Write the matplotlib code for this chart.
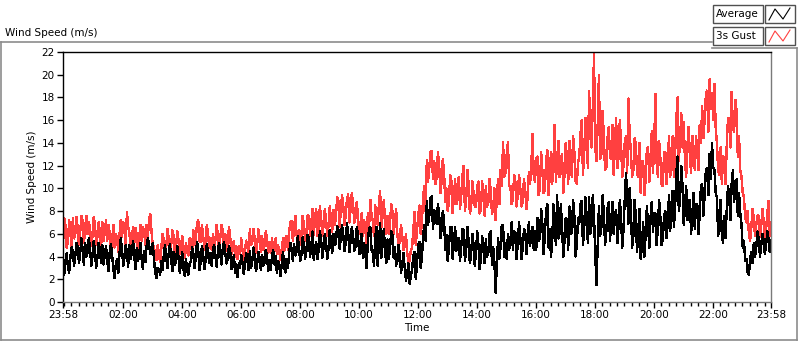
import numpy as np
import pandas as pd
import matplotlib
matplotlib.use("Agg")
import matplotlib.pyplot as plt
import matplotlib.dates as mdates
from matplotlib.patches import Rectangle
from matplotlib.lines import Line2D

plt.rcParams['font.family'] = ['DejaVu Sans']

# samples: on-the-5-minute values from 23:58 to 23:58,
# plus the samples 2.5 minutes after each of them (the "_mid" lists)
average = [
    3.3, 3.6, 3.1, 3.9, 4.4, 4.1, 4.8, 4.3, 4.6, 5.2, 4.4, 4.7,
    4.1, 4.5, 3.9, 4.6, 5.0, 4.2, 3.6, 4.4, 4.0, 2.1, 3.8, 4.3,
    4.6, 3.9, 4.4, 5.0, 4.3, 4.0, 4.7, 4.2, 3.8, 4.5, 4.9, 5.1,
    4.6, 3.8, 2.1, 2.9, 3.6, 4.1, 3.9, 4.3, 3.7, 4.4, 3.6, 3.9,
    3.4, 2.9, 3.8, 2.4, 3.6, 4.3, 3.9, 4.6, 3.5, 4.2, 3.7, 4.4,
    4.3, 4.6, 4.0, 4.4, 4.2, 4.7, 4.3, 3.8, 4.5, 3.2, 2.6, 2.2,
    3.0, 3.5, 3.2, 3.7, 4.5, 3.6, 3.9, 3.4, 3.8, 4.1, 3.5, 3.9,
    3.7, 4.0, 3.3, 2.6, 3.1, 3.4, 3.0, 3.8, 4.3, 4.7, 5.1, 4.4,
    4.8, 4.2, 5.0, 4.5, 5.6, 4.9, 3.7, 5.3, 4.6, 5.5, 4.8, 5.2,
    4.7, 5.4, 6.0, 5.1, 6.4, 5.6, 5.9, 5.2, 6.1, 5.4, 5.8, 4.9,
    5.8, 4.5, 3.9, 4.2, 5.3, 6.6, 4.4, 5.7, 3.2, 6.9, 5.0, 4.6,
    5.5, 4.6, 5.9, 4.8, 3.6, 4.2, 3.3, 3.0, 2.4, 1.6, 2.8, 4.4,
    3.4, 5.3, 4.0, 6.8, 8.9, 7.6, 9.3, 8.1, 6.9, 7.8, 6.4, 7.2,
    5.9, 4.8, 6.6, 5.2, 4.5, 5.6, 4.9, 6.3, 4.6, 5.4, 4.2, 5.1,
    4.4, 5.0, 3.8, 4.7, 5.5, 4.3, 6.2, 4.8, 0.8, 5.6, 4.9, 6.8,
    5.2, 6.0, 5.4, 4.6, 6.1, 5.1, 5.8, 4.7, 6.3, 5.5, 4.9, 6.6,
    6.2, 7.4, 5.6, 6.8, 5.9, 8.6, 6.4, 5.3, 7.1, 9.4, 6.0, 6.7,
    5.4, 7.2, 8.4, 6.1, 7.6, 5.0, 6.9, 8.9, 6.4, 7.4, 9.2, 6.8,
    7.6, 1.5, 8.4, 6.6, 7.8, 6.2, 8.8, 7.1, 6.0, 8.1, 6.7, 7.5,
    6.4, 11.3, 6.9, 8.2, 5.8, 7.6, 6.2, 3.8, 7.0, 5.9, 6.8, 7.4,
    6.2, 7.8, 6.6, 7.4, 5.5, 8.0, 7.0, 6.3, 9.8, 8.4, 12.8, 9.0,
    10.2, 8.4, 7.2, 9.0, 7.6, 6.4, 8.6, 7.8, 10.4, 9.4, 11.8, 13.0,
    14.0, 11.6, 9.2, 7.0, 5.8, 7.6, 8.2, 9.4, 10.4, 8.8, 10.8, 9.6,
    6.8, 5.4, 3.8, 2.4, 4.4, 5.2, 4.8, 5.6, 4.9, 5.4, 5.0, 5.6,
    5.4,
]
average_mid = [
    2.4, 4.3, 2.6, 4.8, 3.2, 5.2, 3.4, 5.6, 3.3, 4.0, 5.6, 3.2,
    5.4, 3.0, 5.2, 3.4, 3.3, 4.9, 2.7, 5.1, 2.9, 3.4, 2.6, 5.6,
    3.2, 5.0, 3.1, 3.8, 5.4, 2.9, 3.6, 5.2, 2.9, 3.5, 5.6, 4.2,
    5.2, 2.6, 3.0, 2.4, 2.8, 5.0, 3.0, 5.1, 2.7, 3.3, 4.9, 2.6,
    4.4, 2.3, 2.7, 3.4, 4.8, 3.0, 5.3, 2.8, 4.9, 2.9, 5.1, 3.4,
    3.2, 5.0, 3.1, 5.2, 3.3, 5.3, 3.4, 4.9, 2.9, 4.1, 3.3, 3.4,
    4.1, 2.5, 4.3, 2.8, 3.0, 4.8, 2.7, 4.4, 2.8, 3.2, 4.6, 2.7,
    2.8, 4.6, 4.0, 3.6, 2.3, 4.4, 2.6, 3.0, 5.2, 3.6, 4.1, 5.8,
    3.6, 5.7, 3.8, 5.9, 4.0, 6.2, 4.8, 3.8, 6.2, 3.9, 6.0, 3.8,
    6.3, 4.3, 5.0, 6.7, 4.7, 6.8, 4.5, 6.9, 4.4, 6.6, 4.5, 6.6,
    4.2, 6.0, 5.2, 3.0, 6.4, 4.6, 3.2, 6.6, 5.2, 3.9, 6.4, 3.4,
    3.8, 6.2, 3.9, 3.2, 5.0, 2.6, 4.3, 1.9, 3.4, 2.3, 4.1, 2.0,
    5.0, 3.0, 5.8, 5.4, 6.8, 9.2, 6.4, 7.0, 8.6, 5.6, 8.0, 4.6,
    3.6, 6.6, 3.8, 6.6, 5.6, 3.6, 6.4, 3.6, 6.6, 3.4, 6.0, 3.2,
    6.2, 2.9, 5.8, 3.4, 4.0, 6.0, 3.3, 3.4, 3.6, 3.8, 6.8, 4.0,
    3.8, 4.6, 7.0, 6.2, 3.8, 7.0, 3.8, 6.4, 4.2, 7.0, 6.2, 4.6,
    4.6, 5.4, 8.2, 4.2, 8.0, 4.8, 4.0, 8.6, 5.0, 5.6, 8.6, 4.0,
    7.4, 4.6, 6.0, 9.0, 4.0, 7.4, 8.6, 5.0, 9.2, 5.2, 6.0, 9.4,
    4.2, 5.0, 5.8, 9.4, 5.0, 8.2, 5.4, 8.8, 7.6, 5.2, 9.0, 4.8,
    9.0, 9.4, 10.0, 4.8, 9.0, 4.4, 8.2, 5.0, 4.0, 8.4, 4.8, 8.8,
    7.8, 5.0, 9.0, 5.0, 7.6, 5.6, 9.4, 8.6, 6.6, 11.4, 8.0, 12.0,
    6.8, 10.2, 9.0, 6.0, 9.6, 8.6, 6.0, 10.2, 7.6, 11.6, 9.4, 10.8,
    11.8, 9.6, 5.8, 9.0, 5.2, 5.6, 10.2, 7.2, 11.6, 10.2, 7.6, 7.8,
    4.8, 3.6, 2.6, 3.8, 3.4, 4.0, 6.2, 4.0, 6.0, 4.2, 6.2, 4.4,
]
gust = [
    5.0, 6.7, 5.3, 6.1, 7.4, 6.0, 6.5, 6.2, 7.1, 6.4, 6.0, 6.6,
    5.8, 6.8, 5.7, 6.2, 7.0, 6.1, 5.4, 6.0, 5.5, 4.8, 5.6, 6.0,
    5.7, 6.4, 7.9, 6.1, 5.5, 5.2, 5.9, 5.6, 5.4, 6.3, 6.8, 7.3,
    6.2, 4.9, 3.7, 4.3, 4.8, 5.4, 4.9, 5.6, 5.0, 5.8, 4.9, 5.4,
    4.8, 4.6, 5.2, 4.1, 5.5, 6.3, 5.6, 7.2, 5.3, 5.9, 5.4, 6.0,
    5.6, 6.0, 5.5, 5.9, 5.7, 6.2, 6.0, 5.2, 5.8, 4.5, 4.0, 3.8,
    4.2, 4.6, 4.4, 5.0, 6.4, 5.3, 5.5, 5.1, 5.6, 5.8, 5.0, 5.5,
    5.3, 5.6, 4.6, 4.2, 4.4, 4.7, 4.5, 5.8, 6.2, 7.1, 6.5, 6.0,
    6.3, 6.0, 6.8, 6.1, 7.6, 6.9, 5.9, 8.2, 6.6, 7.4, 6.8, 7.2,
    6.7, 7.3, 8.1, 7.4, 8.9, 8.0, 8.5, 7.6, 9.5, 8.2, 8.6, 7.4,
    7.4, 6.2, 5.8, 6.4, 7.8, 9.0, 7.2, 8.5, 6.8, 9.8, 7.6, 7.0,
    7.6, 6.8, 8.0, 7.0, 6.0, 5.4, 5.8, 4.9, 4.4, 3.6, 4.8, 7.9,
    6.3, 8.5, 7.0, 10.2, 12.5, 11.8, 13.3, 12.4, 11.0, 12.1, 10.6, 11.4,
    10.0, 8.8, 10.6, 9.2, 8.6, 11.0, 9.4, 12.0, 9.0, 10.4, 8.2, 9.6,
    8.4, 10.6, 8.1, 9.3, 10.2, 8.7, 9.8, 8.0, 7.2, 10.8, 11.6, 14.1,
    11.4, 14.1, 10.2, 9.0, 10.6, 9.4, 10.1, 8.8, 9.9, 9.2, 10.4, 14.8,
    10.6, 12.8, 10.0, 11.6, 9.8, 13.4, 11.2, 10.4, 15.6, 12.4, 11.0, 13.0,
    11.2, 12.6, 14.2, 11.0, 13.2, 10.4, 12.8, 16.0, 13.0, 14.8, 18.6, 13.6,
    21.8, 12.4, 20.0, 13.0, 14.6, 11.8, 15.4, 12.6, 11.2, 16.2, 12.8, 14.0,
    12.0, 14.6, 17.9, 13.2, 11.6, 14.0, 11.0, 9.6, 12.4, 10.8, 13.6, 12.2,
    11.4, 18.3, 11.0, 12.6, 10.2, 13.2, 12.0, 11.0, 14.6, 13.0, 18.0, 14.2,
    13.6, 12.4, 13.8, 12.8, 14.6, 11.6, 13.2, 15.6, 17.2, 16.0, 18.6, 19.6,
    18.4, 19.2, 14.0, 11.2, 10.4, 12.6, 13.8, 16.2, 18.5, 15.0, 16.8, 14.6,
    11.0, 9.2, 7.0, 6.0, 6.6, 7.4, 6.8, 7.6, 6.6, 7.2, 6.4, 8.9,
    7.0,
]
gust_mid = [
    7.4, 4.8, 7.2, 4.9, 5.6, 7.5, 5.0, 7.6, 5.2, 7.6, 7.0, 4.9,
    7.5, 5.0, 7.0, 4.9, 5.4, 7.2, 6.8, 4.6, 6.8, 6.0, 4.4, 7.2,
    7.0, 5.0, 6.6, 4.8, 6.6, 6.5, 4.6, 6.8, 6.6, 5.0, 5.6, 7.7,
    5.0, 4.0, 5.0, 3.5, 6.0, 4.0, 6.4, 4.2, 6.3, 4.3, 6.2, 4.2,
    5.8, 3.9, 4.4, 5.6, 4.3, 5.0, 6.8, 5.4, 6.8, 4.6, 6.8, 4.8,
    4.6, 4.7, 6.8, 4.6, 6.8, 4.9, 4.5, 6.6, 4.2, 5.4, 4.9, 4.9,
    5.6, 3.7, 5.4, 4.0, 5.0, 6.4, 4.3, 6.4, 4.4, 4.6, 6.2, 4.3,
    4.3, 4.6, 5.6, 5.0, 3.7, 5.6, 5.6, 4.6, 7.0, 5.4, 7.6, 5.0,
    5.0, 7.6, 5.4, 7.6, 5.8, 8.2, 7.4, 5.8, 8.4, 5.8, 8.2, 5.8,
    8.4, 6.2, 6.8, 9.2, 6.6, 9.4, 6.8, 9.0, 7.0, 9.6, 7.0, 8.8,
    6.0, 7.8, 7.2, 5.0, 6.6, 7.6, 5.8, 7.2, 8.6, 6.6, 9.0, 6.0,
    6.0, 8.6, 6.0, 8.2, 4.8, 6.8, 4.6, 6.0, 3.5, 4.6, 6.4, 5.0,
    7.6, 6.0, 9.4, 8.0, 10.6, 13.2, 10.8, 10.4, 13.2, 9.6, 12.6, 8.8,
    8.0, 11.2, 7.8, 10.8, 10.4, 8.2, 11.2, 8.0, 11.6, 7.8, 10.6, 8.4,
    10.2, 7.8, 10.6, 7.6, 8.4, 10.8, 7.8, 10.0, 9.4, 8.6, 10.2, 11.0,
    13.0, 10.2, 8.6, 11.2, 8.4, 11.2, 8.4, 10.8, 8.2, 11.4, 12.0, 11.0,
    12.6, 9.4, 13.2, 9.6, 12.4, 9.4, 13.2, 12.4, 10.6, 14.2, 12.6, 9.6,
    14.0, 10.4, 12.0, 14.6, 10.6, 12.2, 14.8, 11.2, 16.2, 11.8, 15.2, 17.2,
    13.6, 15.6, 12.6, 16.8, 11.6, 14.4, 12.8, 15.6, 13.8, 11.8, 16.0, 11.0,
    14.0, 11.4, 14.8, 11.0, 14.4, 11.4, 14.0, 12.4, 9.4, 13.4, 10.6, 15.0,
    14.2, 12.2, 14.2, 10.4, 13.2, 10.4, 14.6, 12.8, 11.0, 16.2, 12.4, 16.6,
    15.8, 11.0, 15.4, 11.4, 13.4, 14.6, 11.6, 14.0, 14.4, 18.2, 15.0, 17.0,
    16.0, 15.4, 11.6, 13.6, 12.8, 10.4, 16.2, 13.6, 15.4, 17.8, 12.8, 11.6,
    9.6, 7.4, 8.0, 5.4, 8.2, 5.8, 7.6, 5.7, 8.2, 5.6, 7.8, 5.8,
]

avg_all = np.empty(len(average) + len(average_mid))
avg_all[0::2] = average
avg_all[1::2] = average_mid
gust_all = np.empty(len(gust) + len(gust_mid))
gust_all[0::2] = gust
gust_all[1::2] = gust_mid
times = pd.date_range("2000-01-01 23:58", periods=len(avg_all), freq="150s")

fig = plt.figure(figsize=(8, 3.42), dpi=100)
W, H = 800, 342
ax = fig.add_axes([63 / W, (H - 302) / H, (771 - 63) / W, (302 - 52) / H])

# crisp 1px traces like the original instrument display
ax.plot(times, gust_all, color="#ff4040", lw=1, antialiased=False)
ax.plot(times, avg_all, color="black", lw=1, antialiased=False)

ax.set_ylim(0, 22)
ax.set_yticks(np.arange(0, 23, 2))
ax.set_xlim(times[0], times[-1])

major = [times[0]] + list(pd.date_range("2000-01-02 02:00", "2000-01-02 22:00", freq="2h")) + [times[-1]]
ax.xaxis.set_major_locator(matplotlib.ticker.FixedLocator(mdates.date2num(major)))
ax.xaxis.set_major_formatter(mdates.DateFormatter("%H:%M"))
ax.xaxis.set_minor_locator(mdates.MinuteLocator(byminute=[0, 15, 30, 45]))

ax.tick_params(axis="both", which="major", direction="out", length=4, width=1,
               labelsize=7.5, pad=2)
ax.tick_params(axis="x", which="minor", direction="out", length=3, width=1)

for s in ["left", "top"]:
    ax.spines[s].set_color("black")
for s in ["right", "bottom"]:
    ax.spines[s].set_color("#7a7a7a")
for s in ax.spines.values():
    s.set_linewidth(1)

ax.set_xlabel("Time", fontsize=7.5, labelpad=2)
ax.set_ylabel("Wind Speed (m/s)", fontsize=7.5, labelpad=3)

# chart title and outer frame
fig.text(5 / W, 1 - 33 / H, "Wind Speed (m/s)", fontsize=7.5, va="center", ha="left")
frame = "#8c8c8c"
fig.add_artist(Line2D([1 / W, 712 / W], [1 - 42 / H] * 2, color=frame, lw=1.2))
fig.add_artist(Line2D([712 / W, 797 / W], [1 - 48 / H] * 2, color=frame, lw=1.2))
fig.add_artist(Line2D([1 / W, 1 / W], [1 - 42 / H, 1 - 340 / H], color=frame, lw=1.2))
fig.add_artist(Line2D([1 / W, 797 / W], [1 - 340 / H] * 2, color=frame, lw=1.2))
fig.add_artist(Line2D([797 / W, 797 / W], [1 - 48 / H, 1 - 340 / H], color=frame, lw=1.2))

# legend boxes
legend_items = [("Average", "black", 5), ("3s Gust", "#ff4040", 27)]
for name, col, top in legend_items:
    fig.add_artist(Rectangle((713 / W, 1 - (top + 18) / H), 50 / W, 18 / H,
                             facecolor="white", edgecolor="#505050", lw=1))
    fig.text(716 / W, 1 - (top + 9) / H, name, fontsize=7.5, va="center", ha="left")
    fig.add_artist(Rectangle((765 / W, 1 - (top + 18) / H), 30 / W, 18 / H,
                             facecolor="white", edgecolor="#505050", lw=1))
    fig.add_artist(Line2D([769 / W, 775 / W, 783 / W, 790 / W],
                          [1 - (top + 15) / H, 1 - (top + 4) / H, 1 - (top + 14) / H, 1 - (top + 3) / H],
                          color=col, lw=0.8))

fig.savefig("out.png", dpi=100)
